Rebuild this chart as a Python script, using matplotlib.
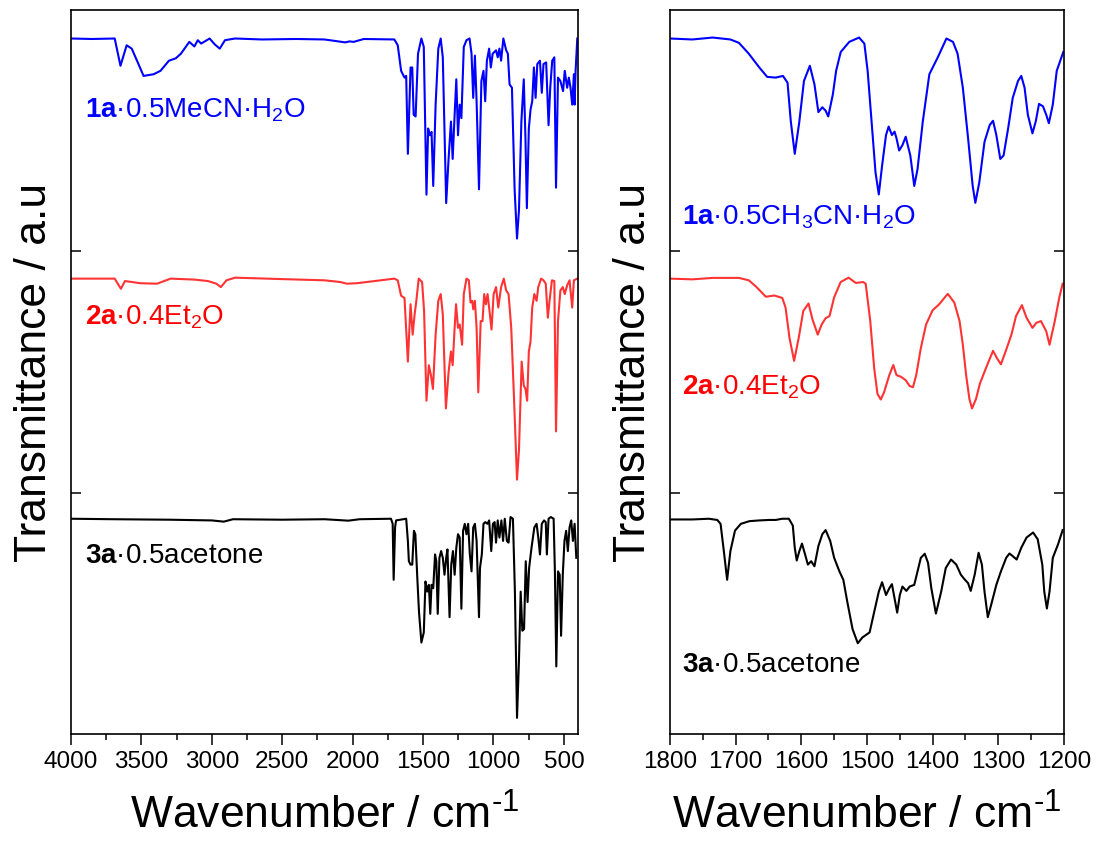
import matplotlib
matplotlib.use("Agg")
import matplotlib.pyplot as plt
from matplotlib.ticker import MultipleLocator

plt.rcParams["font.family"] = ["Liberation Sans", "DejaVu Sans"]
plt.rcParams["mathtext.fontset"] = "custom"
plt.rcParams["mathtext.rm"] = "Liberation Sans"
plt.rcParams["mathtext.it"] = "Liberation Sans:italic"
plt.rcParams["mathtext.bf"] = "Liberation Sans:bold"

# ---- full range spectra (4000-400 cm-1), transmittance scaled to 0..1 per band ----
wn_1a = [4000, 3850, 3690, 3649, 3605, 3569, 3521, 3485, 3413, 3365, 3305, 3256, 3220, 3160,
         3124, 3100, 3076, 3016, 2980, 2944, 2907, 2835, 2643, 2402, 2200, 2053, 2022, 1993,
         1921, 1704, 1680, 1656, 1632, 1620, 1608, 1589, 1577, 1567, 1553, 1536, 1512, 1495,
         1476, 1464, 1452, 1440, 1428, 1411, 1392, 1375, 1360, 1336, 1319, 1302, 1290, 1276,
         1264, 1252, 1240, 1228, 1211, 1192, 1170, 1156, 1144, 1132, 1120, 1103, 1086, 1071,
         1059, 1047, 1031, 1019, 1006, 982, 970, 958, 946, 930, 910, 898, 886, 869, 850, 833,
         819, 802, 785, 773, 763, 749, 737, 725, 713, 701, 689, 670, 657, 645, 626, 609, 597,
         583, 568, 556, 542, 525, 506, 494, 477, 465, 453, 441, 429, 424, 417, 405]
t_1a = [0.882, 0.880, 0.882, 0.769, 0.854, 0.840, 0.776, 0.727, 0.734, 0.748, 0.790, 0.800,
        0.819, 0.868, 0.849, 0.875, 0.861, 0.882, 0.858, 0.840, 0.875, 0.882, 0.878, 0.880,
        0.878, 0.866, 0.870, 0.868, 0.880, 0.878, 0.854, 0.748, 0.720, 0.727, 0.404, 0.762,
        0.762, 0.566, 0.559, 0.819, 0.882, 0.847, 0.235, 0.509, 0.481, 0.495, 0.271, 0.608,
        0.840, 0.882, 0.804, 0.200, 0.383, 0.538, 0.383, 0.566, 0.713, 0.481, 0.608, 0.552,
        0.847, 0.875, 0.882, 0.819, 0.636, 0.811, 0.622, 0.257, 0.706, 0.748, 0.622, 0.790,
        0.840, 0.762, 0.819, 0.833, 0.804, 0.840, 0.790, 0.882, 0.833, 0.819, 0.692, 0.678,
        0.257, 0.053, 0.172, 0.538, 0.713, 0.467, 0.179, 0.509, 0.587, 0.622, 0.762, 0.636,
        0.776, 0.790, 0.657, 0.776, 0.783, 0.523, 0.678, 0.790, 0.804, 0.264, 0.720, 0.706,
        0.664, 0.748, 0.678, 0.720, 0.678, 0.608, 0.734, 0.608, 0.748, 0.882]

wn_2a = [4000, 3690, 3646, 3617, 3509, 3389, 3293, 3124, 3028, 2968, 2936, 2896, 2835, 2500,
         2200, 2089, 2041, 1969, 1704, 1680, 1656, 1632, 1608, 1589, 1574, 1560, 1548, 1531,
         1507, 1493, 1476, 1459, 1444, 1430, 1411, 1392, 1375, 1360, 1338, 1319, 1302, 1290,
         1276, 1266, 1252, 1240, 1223, 1211, 1192, 1175, 1163, 1151, 1144, 1132, 1120, 1108,
         1091, 1078, 1066, 1054, 1042, 1031, 1014, 999, 982, 966, 946, 927, 910, 893, 874, 855,
         833, 819, 800, 785, 773, 761, 749, 737, 725, 710, 694, 682, 662, 645, 629, 614, 602,
         585, 568, 556, 542, 525, 508, 494, 477, 460, 441, 429, 405]
t_2a = [0.887, 0.887, 0.845, 0.877, 0.868, 0.866, 0.887, 0.883, 0.877, 0.866, 0.852, 0.880,
        0.891, 0.885, 0.880, 0.873, 0.866, 0.868, 0.887, 0.880, 0.816, 0.807, 0.543, 0.781,
        0.655, 0.739, 0.795, 0.887, 0.873, 0.753, 0.381, 0.528, 0.486, 0.430, 0.655, 0.795,
        0.823, 0.739, 0.349, 0.500, 0.585, 0.528, 0.683, 0.781, 0.683, 0.697, 0.613, 0.823,
        0.887, 0.880, 0.788, 0.795, 0.760, 0.795, 0.683, 0.416, 0.711, 0.711, 0.823, 0.781,
        0.823, 0.767, 0.676, 0.823, 0.852, 0.767, 0.852, 0.887, 0.838, 0.823, 0.683, 0.402,
        0.054, 0.177, 0.543, 0.444, 0.430, 0.381, 0.585, 0.627, 0.767, 0.823, 0.795, 0.852,
        0.887, 0.880, 0.866, 0.725, 0.795, 0.880, 0.877, 0.254, 0.711, 0.838, 0.852, 0.823,
        0.859, 0.880, 0.767, 0.880, 0.887]

wn_3a = [4000, 3700, 3300, 3000, 2915, 2850, 2500, 2200, 2031, 1950, 1728, 1716, 1709, 1699,
         1692, 1620, 1608, 1601, 1589, 1577, 1565, 1555, 1541, 1529, 1512, 1495, 1483, 1471,
         1459, 1449, 1440, 1428, 1415, 1406, 1396, 1384, 1372, 1360, 1348, 1336, 1327, 1312,
         1300, 1288, 1276, 1264, 1252, 1240, 1228, 1216, 1204, 1192, 1180, 1168, 1156, 1144,
         1132, 1120, 1103, 1096, 1083, 1071, 1059, 1043, 1031, 1016, 1004, 992, 982, 970, 958,
         944, 932, 920, 905, 893, 879, 862, 848, 833, 819, 807, 795, 783, 771, 758, 747, 730,
         710, 694, 682, 670, 657, 641, 629, 621, 609, 593, 573, 564, 554, 542, 530, 520, 508,
         496, 484, 472, 460, 448, 436, 424, 412]
t_3a = [0.892, 0.890, 0.888, 0.885, 0.880, 0.890, 0.888, 0.890, 0.884, 0.890, 0.892, 0.871,
        0.639, 0.856, 0.885, 0.892, 0.800, 0.716, 0.702, 0.702, 0.842, 0.828, 0.646, 0.505,
        0.379, 0.421, 0.632, 0.590, 0.618, 0.498, 0.618, 0.604, 0.744, 0.716, 0.498, 0.730,
        0.758, 0.730, 0.660, 0.730, 0.765, 0.484, 0.702, 0.758, 0.660, 0.772, 0.828, 0.814,
        0.519, 0.842, 0.871, 0.828, 0.871, 0.744, 0.674, 0.856, 0.871, 0.800, 0.484, 0.688,
        0.744, 0.871, 0.878, 0.871, 0.885, 0.758, 0.871, 0.878, 0.793, 0.885, 0.814, 0.885,
        0.800, 0.892, 0.800, 0.793, 0.899, 0.892, 0.590, 0.067, 0.308, 0.590, 0.428, 0.435,
        0.716, 0.547, 0.688, 0.772, 0.856, 0.871, 0.814, 0.744, 0.871, 0.885, 0.878, 0.744,
        0.892, 0.899, 0.892, 0.674, 0.280, 0.674, 0.660, 0.407, 0.660, 0.800, 0.842, 0.758,
        0.856, 0.885, 0.800, 0.871, 0.730]

# ---- expanded region spectra (1800-1200 cm-1) ----
wz_1a = [1800, 1766, 1735, 1708, 1695, 1680, 1664, 1652, 1639, 1628, 1621, 1616, 1610, 1603,
         1596, 1587, 1580, 1574, 1568, 1563, 1559, 1552, 1547, 1540, 1527, 1512, 1504, 1499,
         1493, 1487, 1482, 1477, 1471, 1467, 1462, 1458, 1455, 1451, 1446, 1441, 1434, 1428,
         1423, 1415, 1405, 1392, 1379, 1369, 1362, 1354, 1346, 1339, 1335, 1329, 1321, 1313,
         1308, 1303, 1297, 1292, 1285, 1278, 1270, 1265, 1260, 1255, 1248, 1243, 1238, 1232,
         1227, 1223, 1217, 1211, 1201]
tz_1a = [0.882, 0.878, 0.886, 0.878, 0.864, 0.819, 0.762, 0.723, 0.720, 0.727, 0.699, 0.538,
         0.404, 0.538, 0.706, 0.769, 0.692, 0.577, 0.597, 0.583, 0.559, 0.650, 0.748, 0.826,
         0.868, 0.886, 0.861, 0.748, 0.538, 0.327, 0.236, 0.355, 0.482, 0.517, 0.482, 0.496,
         0.468, 0.418, 0.440, 0.475, 0.397, 0.271, 0.341, 0.538, 0.734, 0.805, 0.882, 0.868,
         0.819, 0.678, 0.468, 0.271, 0.201, 0.285, 0.454, 0.524, 0.541, 0.482, 0.383, 0.397,
         0.510, 0.636, 0.706, 0.727, 0.678, 0.566, 0.489, 0.538, 0.611, 0.601, 0.566, 0.531,
         0.608, 0.748, 0.826]

wz_2a = [1800, 1766, 1735, 1695, 1680, 1669, 1654, 1641, 1629, 1624, 1618, 1611, 1604, 1597,
         1589, 1583, 1575, 1569, 1563, 1557, 1550, 1540, 1528, 1517, 1506, 1502, 1495, 1489,
         1484, 1479, 1474, 1466, 1460, 1455, 1448, 1441, 1435, 1430, 1425, 1418, 1410, 1400,
         1390, 1377, 1367, 1359, 1354, 1349, 1344, 1340, 1334, 1328, 1319, 1308, 1302, 1296,
         1288, 1280, 1273, 1264, 1257, 1248, 1242, 1235, 1227, 1222, 1214, 1207, 1202]
tz_2a = [0.887, 0.884, 0.890, 0.890, 0.880, 0.854, 0.812, 0.817, 0.807, 0.767, 0.641, 0.546,
         0.641, 0.753, 0.784, 0.718, 0.655, 0.697, 0.723, 0.732, 0.810, 0.873, 0.891, 0.869,
         0.873, 0.866, 0.711, 0.515, 0.409, 0.386, 0.416, 0.487, 0.529, 0.487, 0.480, 0.466,
         0.442, 0.437, 0.487, 0.599, 0.697, 0.756, 0.781, 0.824, 0.788, 0.711, 0.613, 0.487,
         0.388, 0.349, 0.388, 0.452, 0.515, 0.588, 0.557, 0.532, 0.592, 0.655, 0.732, 0.777,
         0.725, 0.683, 0.704, 0.711, 0.669, 0.613, 0.711, 0.810, 0.866]

wz_3a = [1800, 1766, 1741, 1728, 1723, 1718, 1713, 1708, 1701, 1692, 1679, 1664, 1649, 1639,
         1629, 1619, 1613, 1610, 1607, 1603, 1599, 1595, 1590, 1585, 1580, 1574, 1568, 1563,
         1556, 1550, 1542, 1536, 1530, 1522, 1514, 1507, 1496, 1489, 1482, 1477, 1471, 1466,
         1462, 1458, 1454, 1450, 1446, 1440, 1435, 1428, 1423, 1418, 1412, 1407, 1402, 1395,
         1387, 1380, 1372, 1364, 1357, 1352, 1346, 1342, 1336, 1330, 1325, 1321, 1316, 1311,
         1303, 1296, 1288, 1283, 1278, 1272, 1265, 1257, 1247, 1240, 1233, 1230, 1226, 1222,
         1217, 1209, 1202]
tz_3a = [0.889, 0.889, 0.892, 0.887, 0.871, 0.758, 0.639, 0.758, 0.843, 0.871, 0.882, 0.885,
         0.887, 0.887, 0.892, 0.892, 0.864, 0.772, 0.719, 0.758, 0.789, 0.751, 0.702, 0.716,
         0.695, 0.779, 0.828, 0.845, 0.800, 0.730, 0.674, 0.639, 0.548, 0.435, 0.376, 0.400,
         0.421, 0.506, 0.590, 0.629, 0.576, 0.604, 0.621, 0.562, 0.503, 0.576, 0.611, 0.593,
         0.611, 0.618, 0.674, 0.730, 0.747, 0.709, 0.604, 0.499, 0.590, 0.688, 0.723, 0.702,
         0.660, 0.643, 0.625, 0.593, 0.660, 0.751, 0.702, 0.590, 0.484, 0.534, 0.618, 0.674,
         0.730, 0.748, 0.737, 0.723, 0.772, 0.814, 0.835, 0.807, 0.702, 0.590, 0.520, 0.590,
         0.730, 0.786, 0.845]

blue = "#0000FF"
red_line = "#FF3333"
red_text = "#FF0000"

fig = plt.figure(figsize=(10.98, 8.43), dpi=100)
ax1 = fig.add_axes([0.0647, 0.1293, 0.4617, 0.8588])
ax2 = fig.add_axes([0.6102, 0.1293, 0.3588, 0.8588])

# stacked: black band 0-1, red 1-2, blue 2-3
ax1.plot(wn_1a, [v + 2 for v in t_1a], color=blue, lw=1.5)
ax1.plot(wn_2a, [v + 1 for v in t_2a], color=red_line, lw=1.5)
ax1.plot(wn_3a, t_3a, color="black", lw=1.5)

ax2.plot(wz_1a, [v + 2 for v in tz_1a], color=blue, lw=1.5)
ax2.plot(wz_2a, [v + 1 for v in tz_2a], color=red_line, lw=1.5)
ax2.plot(wz_3a, tz_3a, color="black", lw=1.5)

ax1.set_xlim(4000, 400)
ax2.set_xlim(1800, 1200)
ax1.xaxis.set_major_locator(MultipleLocator(500))
ax1.xaxis.set_minor_locator(MultipleLocator(250))
ax2.xaxis.set_major_locator(MultipleLocator(100))
ax2.xaxis.set_minor_locator(MultipleLocator(50))

for ax in (ax1, ax2):
    ax.set_ylim(0, 3)
    ax.set_yticks([1, 2])
    ax.set_yticklabels([])
    ax.tick_params(axis="y", direction="in", length=7, width=1.1, left=True, right=True)
    ax.tick_params(axis="x", which="major", direction="out", length=8, width=1.1,
                   labelsize=17.5, pad=4)
    ax.tick_params(axis="x", which="minor", direction="out", length=4, width=1.1)
    for s in ax.spines.values():
        s.set_linewidth(1.2)
    ax.set_xlabel(r"Wavenumber / cm$^{\text{-1}}$", fontsize=32, labelpad=16)
    ax.set_ylabel("Transmittance / a.u", fontsize=32, labelpad=8)

ax1.text(0.028, 0.862, r"$\mathbf{1a}$·0.5MeCN·H$_2$O", transform=ax1.transAxes,
         fontsize=20, color=blue, va="center")
ax1.text(0.028, 0.576, r"$\mathbf{2a}$·0.4Et$_2$O", transform=ax1.transAxes,
         fontsize=20, color=red_text, va="center")
ax1.text(0.028, 0.246, r"$\mathbf{3a}$·0.5acetone", transform=ax1.transAxes,
         fontsize=20, color="black", va="center")

ax2.text(0.030, 0.714, r"$\mathbf{1a}$·0.5CH$_3$CN·H$_2$O", transform=ax2.transAxes,
         fontsize=20, color=blue, va="center")
ax2.text(0.030, 0.479, r"$\mathbf{2a}$·0.4Et$_2$O", transform=ax2.transAxes,
         fontsize=20, color=red_text, va="center")
ax2.text(0.030, 0.095, r"$\mathbf{3a}$·0.5acetone", transform=ax2.transAxes,
         fontsize=20, color="black", va="center")

fig.savefig("out.png", dpi=100)
